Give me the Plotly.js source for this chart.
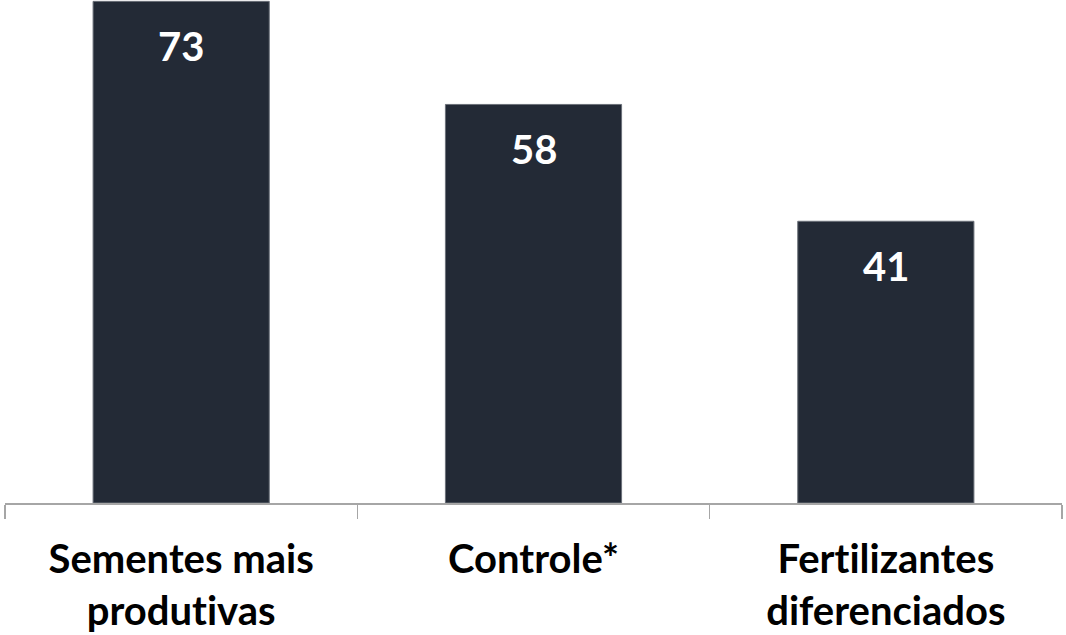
<!DOCTYPE html>
<html>
<head>
<meta charset="utf-8">
<script src="https://cdn.plot.ly/plotly-3.0.1.min.js"></script>
<style>html,body{margin:0;padding:0;background:#fff;}#chart{width:1066px;height:635px;}
svg text{font-variant-ligatures:none;font-feature-settings:"liga" 0;}</style>
</head>
<body>
<div id="chart"></div>
<script>
const categories = ["Sementes mais<br>produtivas", "Controle*", "Fertilizantes<br>diferenciados"];
const values = [73, 58, 41];
const valueLabels = ["73", "58", "41"];

const barColor = "#232a36";
const fontFamily = "Lato, 'Open Sans', sans-serif";

const trace = {
  type: "bar",
  x: categories,
  y: values,
  marker: { color: barColor, line: { color: "#6b7079", width: 1 } },
  hoverinfo: "none"
};

const annotations = categories.map((c, i) => ({
  x: c, y: values[i], xref: "x", yref: "y",
  text: valueLabels[i], showarrow: false,
  yanchor: "top", yshift: -19,
  font: { family: fontFamily, size: 40, color: "#ffffff", weight: 700 }
}));

const layout = {
  width: 1066, height: 635,
  margin: { l: 5, r: 4, t: 0, b: 132 },
  paper_bgcolor: "#ffffff", plot_bgcolor: "#ffffff",
  showlegend: false,
  bargap: 0.5,
  xaxis: {
    type: "category",
    range: [-0.5, 2.5],
    showline: true, linecolor: "#a6a6a6", linewidth: 1.5,
    ticks: "outside", tickson: "boundaries", ticklen: 14, tickwidth: 1.5, tickcolor: "#a6a6a6",
    ticklabelstandoff: 20,
    showgrid: false, zeroline: false,
    tickfont: { family: fontFamily, size: 40, color: "#000000", weight: 700 },
    fixedrange: true
  },
  yaxis: { visible: false, range: [0, 73.2], showgrid: false, zeroline: false, fixedrange: true },
  annotations: annotations
};

Plotly.newPlot("chart", [trace], layout, { displayModeBar: false, staticPlot: true });
</script>
</body>
</html>
